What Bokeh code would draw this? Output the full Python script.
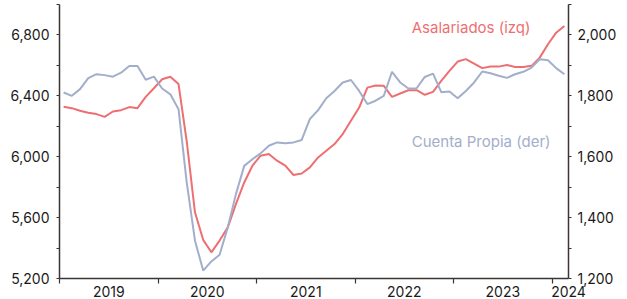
from bokeh.plotting import figure
from bokeh.models import (Range1d, LinearAxis, FixedTicker, NumeralTickFormatter, Label)
from bokeh.embed import file_html
from bokeh.resources import INLINE

# Monthly data, Jan 2019 - Feb 2024 (thousands)
months = list(range(62))
asalariados = [6328, 6319, 6302, 6289, 6280, 6262, 6297, 6306, 6326, 6319,
               6393, 6450, 6509, 6525, 6477, 6100, 5635, 5454, 5372, 5449,
               5536, 5690, 5831, 5941, 6007, 6018, 5974, 5941, 5880, 5890,
               5930, 5995, 6039, 6083, 6149, 6236, 6323, 6454, 6468, 6466,
               6393, 6415, 6437, 6437, 6407, 6426, 6498, 6564, 6625, 6641,
               6612, 6582, 6592, 6592, 6603, 6590, 6590, 6597, 6651, 6739,
               6815, 6859]
cuenta_propia = [1811, 1800, 1822, 1858, 1871, 1868, 1863, 1876, 1898, 1898,
                 1853, 1863, 1824, 1805, 1756, 1515, 1325, 1226, 1256, 1278,
                 1368, 1478, 1570, 1592, 1611, 1636, 1647, 1644, 1647, 1655,
                 1724, 1753, 1792, 1816, 1844, 1852, 1816, 1773, 1784, 1800,
                 1879, 1844, 1824, 1825, 1862, 1873, 1812, 1814, 1792, 1816,
                 1844, 1880, 1874, 1866, 1859, 1871, 1879, 1893, 1920, 1917,
                 1891, 1871]
year_labels = ["2019", "2020", "2021", "2022", "2023", "2024"]
year_label_pos = [6, 18, 30, 42, 54, 62]
year_bounds = [0, 12, 24, 36, 48, 60]
left_ticks = [5200, 5600, 6000, 6400, 6800]
left_minor = [5400, 5800, 6200, 6600, 7000]
right_ticks = [1200, 1400, 1600, 1800, 2000]
right_minor = [1300, 1500, 1700, 1900, 2100]

RED = "#EE6F72"
BLUE = "#A3AECB"
AXIS = "#3B3633"
FONT = "Inter"

x = [m + 0.5 for m in months]

p = figure(frame_width=509, frame_height=274, output_backend="svg",
           toolbar_location=None, x_range=Range1d(0, 62),
           y_range=Range1d(5200, 7000),
           min_border_left=59, min_border_right=59, min_border_top=4,
           min_border_bottom=21)
p.extra_y_ranges = {"der": Range1d(1200, 2100)}
p.outline_line_color = None
p.xgrid.visible = False
p.ygrid.visible = False

p.line(x, asalariados, line_color=RED, line_width=2)
p.line(x, cuenta_propia, line_color=BLUE, line_width=2, y_range_name="der")

def style_axis(ax):
    ax.axis_line_color = AXIS
    ax.axis_line_width = 1.5
    ax.major_tick_line_color = AXIS
    ax.minor_tick_line_color = AXIS
    ax.major_tick_line_width = 1.2
    ax.minor_tick_line_width = 1.2
    ax.major_tick_in = 0
    ax.minor_tick_in = 0
    ax.major_tick_out = 3
    ax.minor_tick_out = 3
    ax.major_label_text_font = FONT
    ax.major_label_text_font_size = "14px"
    ax.major_label_text_color = "#1A1A1A"

# left axis
la = p.yaxis[0]
la.ticker = FixedTicker(ticks=left_ticks, minor_ticks=left_minor)
la.formatter = NumeralTickFormatter(format="0,0")
style_axis(la)
la.major_label_standoff = 7

# right axis
ra = LinearAxis(y_range_name="der")
ra.ticker = FixedTicker(ticks=right_ticks, minor_ticks=right_minor)
ra.formatter = NumeralTickFormatter(format="0,0")
style_axis(ra)
ra.major_label_standoff = 6
p.add_layout(ra, "right")

# bottom axis
xa = p.xaxis[0]
xa.ticker = FixedTicker(ticks=year_label_pos, minor_ticks=year_bounds)
xa.major_label_overrides = {pos: lab for pos, lab in zip(year_label_pos, year_labels)}
style_axis(xa)
xa.major_tick_out = 0
xa.minor_tick_out = 5
xa.major_label_standoff = 2

p.add_layout(Label(x=42.9, y=6848, text="Asalariados (izq)", text_color=RED,
                   text_font=FONT, text_font_size="15px", text_baseline="alphabetic"))
p.add_layout(Label(x=42.9, y=6103, text="Cuenta Propia (der)", text_color=BLUE,
                   text_font=FONT, text_font_size="15px", text_baseline="alphabetic"))

open("out.html", "w").write(file_html(p, INLINE))
